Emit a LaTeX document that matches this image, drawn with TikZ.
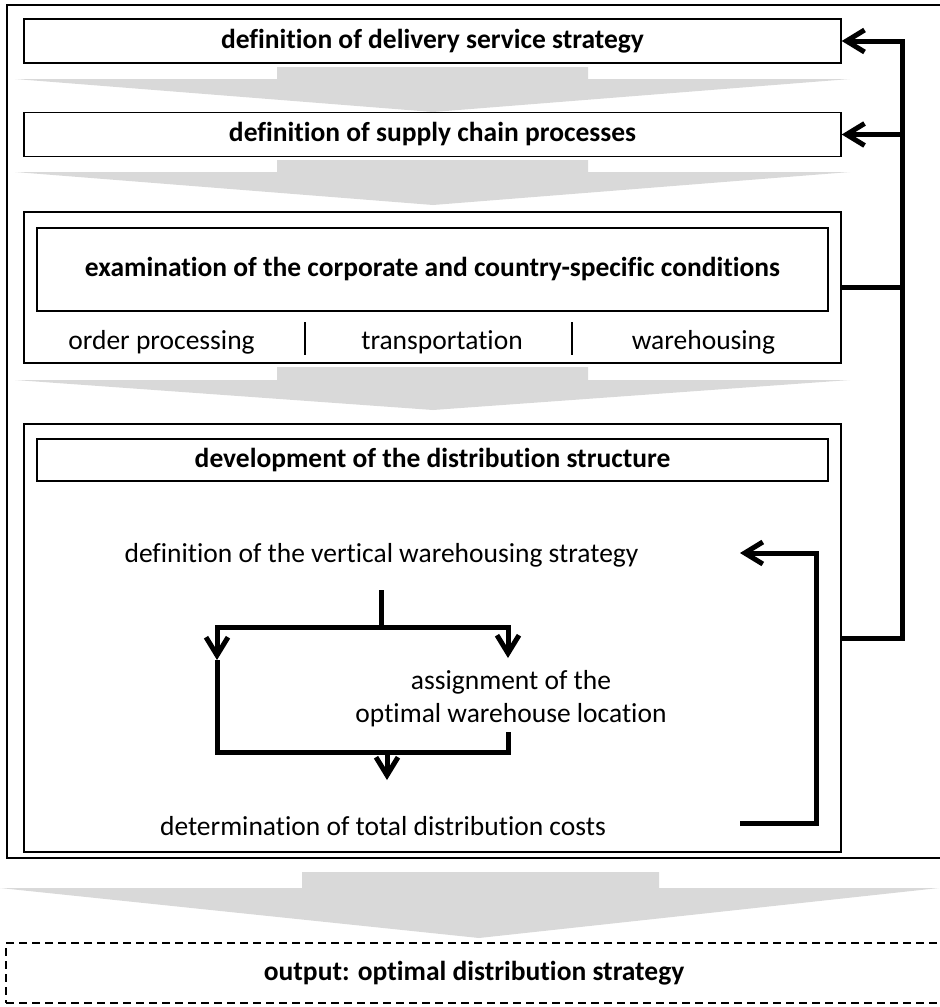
\documentclass[tikz,border=0pt]{standalone}
\usepackage{fontspec}
\setmainfont{Carlito}[RawFeature={-liga;-clig;-calt;-rlig;-dlig}]
\usepackage{tikz}
\usetikzlibrary{arrows.meta,positioning,calc}

\begin{document}
\begin{tikzpicture}[x=0.5pt, y=-0.5pt, >={Straight Barb[length=9pt,width=11pt]}, font=\fontsize{13.75}{16.5}\selectfont]
\tikzstyle{box}=[draw, line width=0.75pt, minimum width=408.5pt, minimum height=22pt, inner sep=0pt, font=\fontsize{13.75}{16.5}\selectfont\bfseries]
\tikzstyle{frame}=[draw, line width=0.75pt, minimum width=408.5pt, inner sep=0pt]
\tikzstyle{flow}=[fill=gray!30, draw=none]
\tikzstyle{thk}=[line width=2.5pt]
\useasboundingbox (0,0) rectangle (939,1007);

\node[draw, line width=1pt, minimum width=467pt, minimum height=426.5pt] (outer) at (474,431.5) {};
\node[box] (strat) at (432.5,41) {definition of delivery service strategy};
\node[box] (proc) at (432.5,134.5) {definition of supply chain processes};
\node[frame, minimum height=75.5pt] (frame3) at (432.5,287.5) {};
\node[box, minimum width=395.5pt, minimum height=41.5pt] (cond) at (432.5,269.5) {examination of the corporate and country-specific conditions};
\node (order) at (161.5,342) {order processing}; \node (trans) at (442,342) {transportation}; \node (wareh) at (703.5,342) {warehousing};
\draw[line width=1pt] (305,322) -- (305,355); \draw[line width=1pt] (572,322) -- (572,355);

\node[frame, minimum height=214pt] (frame4) at (432.5,638) {};
\node[box, minimum width=395.5pt, minimum height=21pt] (dev) at (432.5,460) {development of the distribution structure};
\node (vert) at (381.5,555) {definition of the vertical warehousing strategy};
\node[align=center] (assign) at (511,699) {assignment of the\\optimal warehouse location};
\node (cost) at (383,826) {determination of total distribution costs};

\node[draw, dash pattern=on 4pt off 2.5pt, line width=0.6pt, minimum width=468pt, minimum height=30pt, font=\fontsize{13.75}{16.5}\selectfont\bfseries] (out) at (474,973) {output: optimal distribution strategy};

% grey flow arrows
\fill[flow] (277,67) -- (588,67) -- (588,79) -- (850,79) -- (433,112) -- (15,79) -- (277,79) -- cycle;
\fill[flow] (277,160) -- (588,160) -- (588,172) -- (850,172) -- (433,205) -- (15,172) -- (277,172) -- cycle;
\fill[flow] (277,367) -- (588,367) -- (588,380) -- (850,380) -- (433,410) -- (15,380) -- (277,380) -- cycle;
\fill[flow] (302,872) -- (659,872) -- (659,888) -- (939,888) -- (479,938) -- (0,888) -- (302,888) -- cycle;

% inner flow of the distribution structure
\coordinate (stem) at (381,590); \coordinate (fork) at (381,627);
\coordinate (ltip) at (217,660); \coordinate (rtip) at (508,658);
\coordinate (lb) at (217,752); \coordinate (rb) at (508,752); \coordinate (rfoot) at (508,732);
\coordinate (join) at (387,752); \coordinate (jtip) at (387,780);
\draw[thk] (stem) -- (fork);
\draw[thk,->] (fork) -| (ltip); \draw[thk,->] (fork) -| (rtip);
\draw[thk] (ltip) -- (lb) -- (rb) -- (rfoot);
\draw[thk,->] (join) -- (jtip);

\coordinate (fbout) at (740,823); \coordinate (fbx) at (816,823); \coordinate (fbin) at (740,553);
\draw[thk,->] (fbout) -- (fbx) |- (fbin);

% feedback to the top
\coordinate (railtop) at (902,41);
\draw[thk,->] (frame4.east) -| (railtop) -- (strat);
\draw[thk,->] (railtop |- proc) -- (proc);
\draw[thk] (frame3) -- (frame3 -| railtop);
\end{tikzpicture}
\end{document}
